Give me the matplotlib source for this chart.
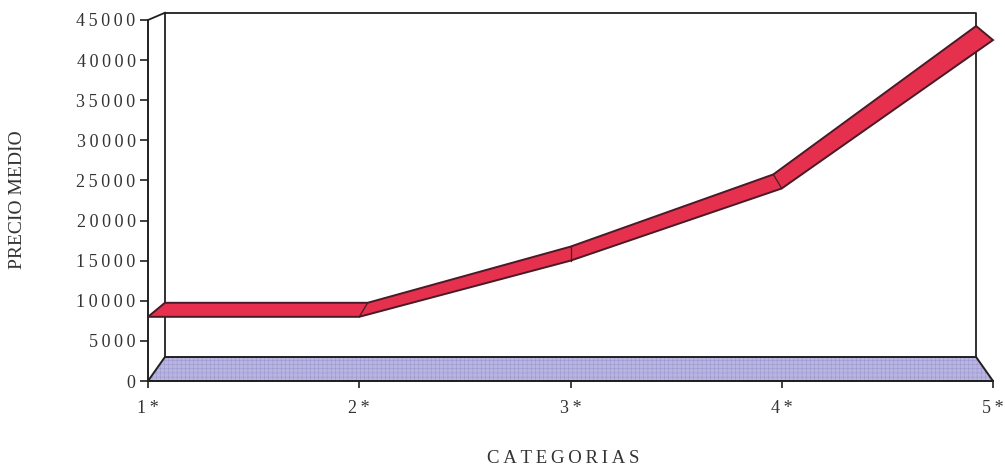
import matplotlib
matplotlib.use("Agg")
import matplotlib.pyplot as plt
from matplotlib.patches import Polygon
from matplotlib.ticker import FuncFormatter

plt.rcParams['font.family'] = ['Liberation Serif', 'DejaVu Serif']
plt.rcParams['hatch.linewidth'] = 0.4

categorias = ['1*', '2*', '3*', '4*', '5*']
precio_medio = [8000, 8000, 15000, 24000, 42500]
yticks = [0, 5000, 10000, 15000, 20000, 25000, 30000, 35000, 40000, 45000]

# depth of the 3d box, in data units (perspective: shrinks towards the middle)
def depth_dx(x):
    return 0.04 * (2 - x)

floor_dy = 2990       # back edge of the floor
wall_top = 45900      # top edge of the back wall
ribbon_dy = 1750      # depth of the line ribbon

ink = '#202020'
txt = '#333333'

def spaced(s):
    return '\u2009'.join(s)

fig = plt.figure(figsize=(10.05, 4.69), dpi=100)
ax = fig.add_axes([148 / 1005, 88 / 469, 845 / 1005, 361 / 469])
n = len(categorias)
xs = list(range(n))
ax.set_xlim(0, n - 1)
ax.set_ylim(0, 45000)

# floor
x0, x1 = 0, n - 1
floor = [(x0, 0), (x1, 0), (x1 + depth_dx(x1), floor_dy), (x0 + depth_dx(x0), floor_dy)]
ax.add_patch(Polygon(floor, closed=True, facecolor='#b9b5e3', edgecolor='#9c98cc',
                     hatch='++++', linewidth=0, clip_on=False, zorder=1))
ax.add_patch(Polygon(floor, closed=True, fill=False, edgecolor=ink, linewidth=1.4,
                     clip_on=False, zorder=2))

# back wall and left wall edges
bl = x0 + depth_dx(x0)
br = x1 + depth_dx(x1)
ax.plot([bl, bl, br, br], [floor_dy, wall_top, wall_top, floor_dy], color=ink, lw=1.3,
        clip_on=False, zorder=2)
ax.plot([x0, bl], [45000, wall_top], color=ink, lw=1.3, clip_on=False, zorder=2)

# line ribbon
front = list(zip(xs, precio_medio))
back = [(x + depth_dx(x), v + ribbon_dy) for x, v in front]
ax.add_patch(Polygon(front + back[::-1], closed=True, facecolor='#e5304e', edgecolor='#4a1a26',
                     linewidth=1.4, clip_on=False, zorder=4))
for (xf, yf), (xb, yb) in zip(front[1:-1], back[1:-1]):
    ax.plot([xf, xb], [yf, yb], color='#4a1a26', lw=0.9, clip_on=False, zorder=5)

# axes
for side in ['top', 'right']:
    ax.spines[side].set_visible(False)
for side in ['left', 'bottom']:
    ax.spines[side].set_color(ink)
    ax.spines[side].set_linewidth(1.4)
    ax.spines[side].set_zorder(3)
ax.set_facecolor('none')
ax.set_yticks(yticks)
ax.yaxis.set_major_formatter(FuncFormatter(lambda v, p: spaced(str(int(v)))))
ax.set_xticks(xs)
ax.set_xticklabels([spaced(c) for c in categorias])
ax.tick_params(axis='y', direction='out', length=6, width=1.2, color=ink, pad=3,
               labelsize=13, labelcolor=txt)
ax.tick_params(axis='x', direction='out', length=5, width=1.2, color=ink, pad=9,
               labelsize=13, labelcolor=txt)

fig.text(18 / 1005, 1 - 200 / 469, 'PRECIO MEDIO', rotation=90, ha='center',
         va='center', fontsize=14, color=txt)
fig.text(563 / 1005, 1 - 458 / 469, spaced('CATEGORIAS'), ha='center', va='center',
         fontsize=13.5, color=txt)

fig.savefig('out.png', dpi=100, facecolor='white')
